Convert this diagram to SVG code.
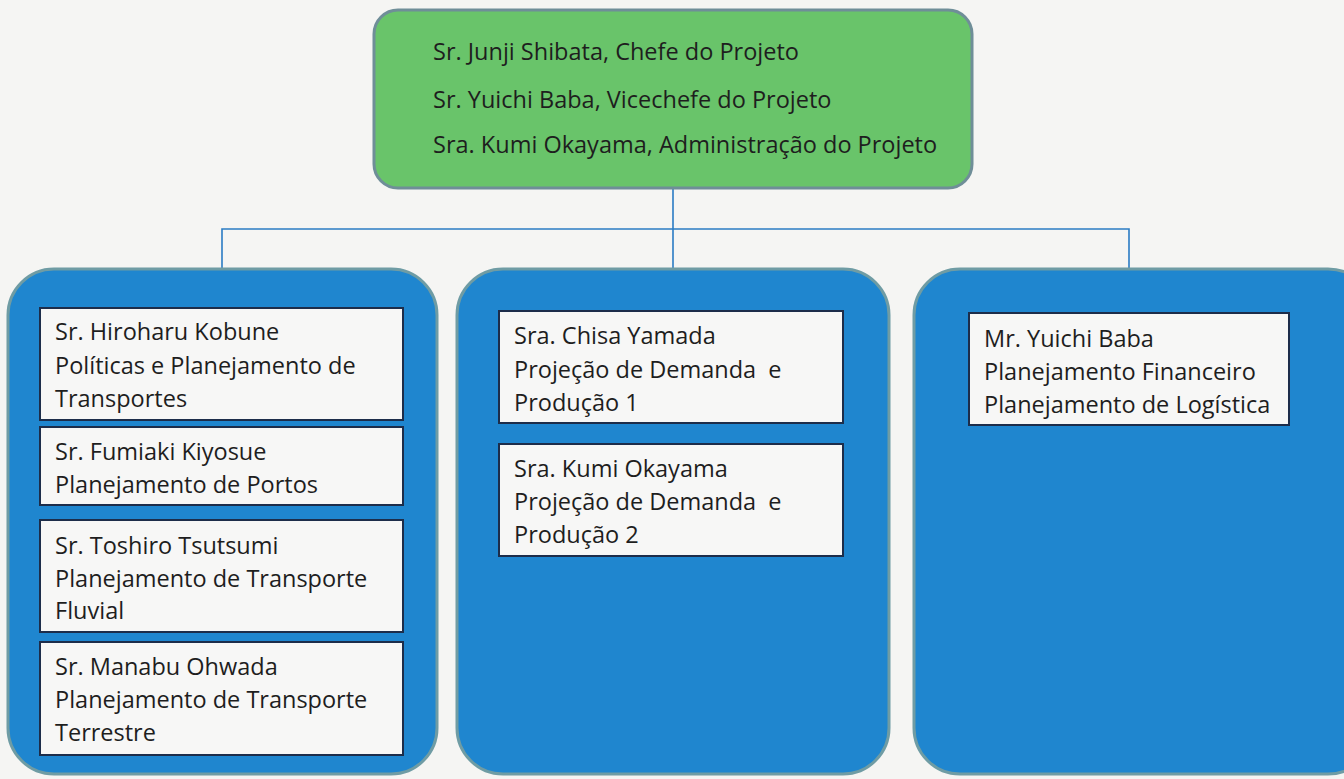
<svg xmlns="http://www.w3.org/2000/svg" width="1344" height="779" viewBox="0 0 1344 779">
<style>
.bg{fill:#f5f5f3}
.top{fill:#69c46a;stroke:#6f8e98;stroke-width:3}
.panel{fill:#1f86cf;stroke:#6f9ca4;stroke-width:3}
.card{fill:#f7f7f6;stroke:#1d2d4a;stroke-width:2}
.conn{fill:none;stroke:#2b7cc4;stroke-width:1.6}
text{font-family:"Open Sans","Liberation Sans",Arial,sans-serif;font-size:23.5px;fill:#1e1e1e}
</style>
<rect class="bg" x="0" y="0" width="1344" height="779"/>
<g id="connectors">
<path class="conn" d="M673 188 V268 M222 268 V229 H1129 V268"/>
</g>
<g id="head">
<rect class="top" x="374" y="10" width="598" height="178" rx="24"/>
<text x="433" y="60">Sr. Junji Shibata, Chefe do Projeto</text>
<text x="433" y="108">Sr. Yuichi Baba, Vicechefe do Projeto</text>
<text x="433" y="153">Sra. Kumi Okayama, Administração do Projeto</text>
</g>
<g id="panel-left">
<rect class="panel" x="8" y="269" width="429" height="505" rx="46"/>
</g>
<g id="panel-mid">
<rect class="panel" x="457" y="269" width="432" height="505" rx="46"/>
</g>
<g id="panel-right">
<rect class="panel" x="914" y="269" width="460" height="505" rx="46"/>
</g>
<g id="kobune">
<rect class="card" x="40" y="308" width="363" height="112"/>
<text x="55" y="340">Sr. Hiroharu Kobune</text>
<text x="55" y="374">Políticas e Planejamento de</text>
<text x="55" y="407">Transportes</text>
</g>
<g id="kiyosue">
<rect class="card" x="40" y="427" width="363" height="78"/>
<text x="55" y="460">Sr. Fumiaki Kiyosue</text>
<text x="55" y="493">Planejamento de Portos</text>
</g>
<g id="tsutsumi">
<rect class="card" x="40" y="520" width="363" height="112"/>
<text x="55" y="554">Sr. Toshiro Tsutsumi</text>
<text x="55" y="587">Planejamento de Transporte</text>
<text x="55" y="619">Fluvial</text>
</g>
<g id="ohwada">
<rect class="card" x="40" y="642" width="363" height="113"/>
<text x="55" y="675">Sr. Manabu Ohwada</text>
<text x="55" y="708">Planejamento de Transporte</text>
<text x="55" y="741">Terrestre</text>
</g>
<g id="yamada">
<rect class="card" x="499" y="311" width="344" height="112"/>
<text x="514" y="344">Sra. Chisa Yamada</text>
<text x="514" y="378" xml:space="preserve">Projeção de Demanda  e</text>
<text x="514" y="411">Produção 1</text>
</g>
<g id="okayama">
<rect class="card" x="499" y="444" width="344" height="112"/>
<text x="514" y="477">Sra. Kumi Okayama</text>
<text x="514" y="510" xml:space="preserve">Projeção de Demanda  e</text>
<text x="514" y="543">Produção 2</text>
</g>
<g id="baba">
<rect class="card" x="969" y="313" width="320" height="112"/>
<text x="984" y="347">Mr. Yuichi Baba</text>
<text x="984" y="380">Planejamento Financeiro</text>
<text x="984" y="413">Planejamento de Logística</text>
</g>
</svg>
